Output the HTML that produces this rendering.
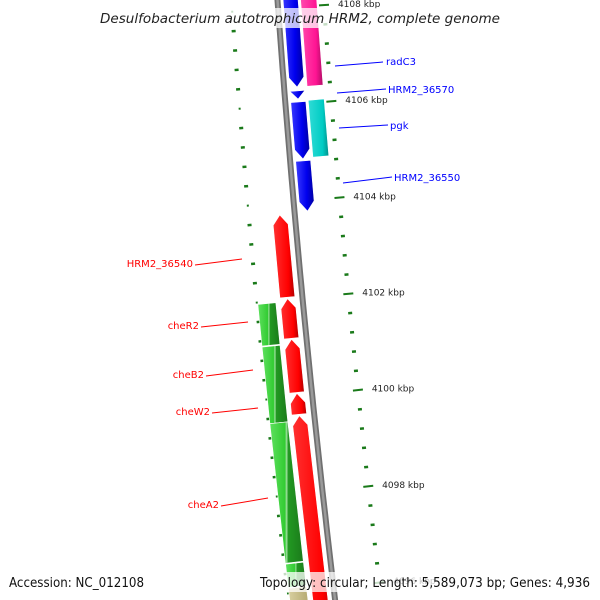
<!DOCTYPE html>
<html><head><meta charset="utf-8">
<style>
html,body{margin:0;padding:0;background:#fff;width:600px;height:600px;overflow:hidden;}
svg{display:block;overflow:hidden;font-family:"DejaVu Sans","Liberation Sans",sans-serif;}
</style></head>
<body>
<svg id="map" width="600" height="600" viewBox="0 0 600 600" xmlns="http://www.w3.org/2000/svg">
<defs>
<linearGradient id="gBlue" x1="0" x2="1" y1="0" y2="0"><stop offset="0" stop-color="#3a3aff"/><stop offset="0.6" stop-color="#0000ee"/><stop offset="1" stop-color="#0000a0"/></linearGradient>
<linearGradient id="gPink" x1="0" x2="1" y1="0" y2="0"><stop offset="0" stop-color="#ff4fb0"/><stop offset="0.7" stop-color="#ff1493"/><stop offset="1" stop-color="#b00d66"/></linearGradient>
<linearGradient id="gCyan" x1="0" x2="1" y1="0" y2="0"><stop offset="0" stop-color="#30dcd6"/><stop offset="0.7" stop-color="#00ccc4"/><stop offset="1" stop-color="#008f8a"/></linearGradient>
<linearGradient id="gRed" x1="0" x2="1" y1="0" y2="0"><stop offset="0" stop-color="#ff3030"/><stop offset="0.7" stop-color="#ff0000"/><stop offset="1" stop-color="#b00000"/></linearGradient>
<linearGradient id="gGreen" x1="0" x2="1" y1="0" y2="0"><stop offset="0" stop-color="#5ee05e"/><stop offset="0.45" stop-color="#33cc33"/><stop offset="0.5" stop-color="#a0e0a0"/><stop offset="0.55" stop-color="#229922"/><stop offset="1" stop-color="#1b7a1b"/></linearGradient>
<linearGradient id="gBeige" x1="0" x2="1" y1="0" y2="0"><stop offset="0" stop-color="#d8d0a0"/><stop offset="1" stop-color="#a89c60"/></linearGradient>
</defs>
<g id="ticks"></g>
<g id="backbone"></g>
<g id="genes"></g>
<g id="labels" font-size="10">
  <line x1="335" y1="66" x2="383" y2="62" stroke="#0000ff" stroke-width="1"/>
  <text x="386" y="65" fill="#0000ff">radC3</text>
  <line x1="337" y1="93" x2="386" y2="89" stroke="#0000ff"/>
  <text x="388" y="93" fill="#0000ff">HRM2_36570</text>
  <line x1="339" y1="128" x2="388" y2="125" stroke="#0000ff"/>
  <text x="390" y="129" fill="#0000ff">pgk</text>
  <line x1="343" y1="183" x2="392" y2="177" stroke="#0000ff"/>
  <text x="394" y="181" fill="#0000ff">HRM2_36550</text>
  <line x1="195" y1="265" x2="242" y2="259" stroke="#ff0000"/>
  <text x="193" y="267" fill="#ff0000" text-anchor="end">HRM2_36540</text>
  <line x1="201" y1="327" x2="248" y2="322" stroke="#ff0000"/>
  <text x="199" y="329" fill="#ff0000" text-anchor="end">cheR2</text>
  <line x1="206" y1="376" x2="253" y2="370" stroke="#ff0000"/>
  <text x="204" y="378" fill="#ff0000" text-anchor="end">cheB2</text>
  <line x1="212" y1="413" x2="258" y2="408" stroke="#ff0000"/>
  <text x="210" y="415" fill="#ff0000" text-anchor="end">cheW2</text>
  <line x1="221" y1="506" x2="268" y2="498" stroke="#ff0000"/>
  <text x="219" y="508" fill="#ff0000" text-anchor="end">cheA2</text>
</g>
<rect x="95" y="8" width="410" height="20" fill="#fff" fill-opacity="0.75"/>
<text x="100" y="23" font-size="13" font-style="italic" fill="#222" textLength="400" lengthAdjust="spacingAndGlyphs">Desulfobacterium autotrophicum HRM2, complete genome</text>
<rect x="256" y="572" width="340" height="20" fill="#fff" fill-opacity="0.75"/>
<text x="9" y="587" font-size="13" fill="#111" textLength="135" lengthAdjust="spacingAndGlyphs">Accession: NC_012108</text>
<text x="260" y="587" font-size="13" fill="#111" textLength="330" lengthAdjust="spacingAndGlyphs">Topology: circular; Length: 5,589,073 bp; Genes: 4,936</text>
</svg>
<script>
// gene data (kbp)
const geneNames = ["blue1","blue-small","blue2","blue3","radC3-pink","pgk-cyan","HRM2_36540","cheR2","cheB2","cheW2","cheA2","green1","green2","green3","green4","beige"];
const geneStart = [4108.5,4106.27,4106.04,4104.82,4108.5,4106.06,4103.75,4102.02,4101.18,4100.06,4099.6,4101.96,4101.08,4099.5,4096.6,4096.1];
const geneEnd   = [4106.35,4106.10,4104.86,4103.78,4106.35,4104.88,4102.05,4101.20,4100.08,4099.63,4094.5,4101.10,4099.50,4096.62,4096.12,4094.5];
const geneTrack = [13,13,13,13,31,31,-15,-15,-15,-15,-15,-36,-36,-36,-36,-36];
const geneArrow = ["down","down","down","down","none","none","up","up","up","up","up","none","none","none","none","none"];
const geneFill  = ["gBlue","gBlue","gBlue","gBlue","gPink","gCyan","gRed","gRed","gRed","gRed","gRed","gGreen","gGreen","gGreen","gGreen","gBeige"];
const tickLabels = [4096,4098,4100,4102,4104,4106,4108];

const NS="http://www.w3.org/2000/svg";
function yOfKb(kb){return 105+(4106-kb)*48.3;}
function xOfY(y){return 277.5+0.072*y+0.00004*y*y;}
function P(kb,off){
  const y=yOfKb(kb), x=xOfY(y), s=0.072+0.00008*y, n=Math.sqrt(1+s*s);
  return [x+off/n, y-off*s/n];
}
function pts(a){return a.map(p=>p[0].toFixed(1)+","+p[1].toFixed(1)).join(" ");}

const tg=document.getElementById("ticks");
for(let i=-28;i<=6;i++){
  const kb=4106+i*0.4; const major=(i%5===0);
  [[44,48],[-44,-48]].forEach(([o1,o2])=>{
    const a=P(kb,major?o1-3:o1), b=P(kb,major?o2+3:o2);
    const l=document.createElementNS(NS,"line");
    l.setAttribute("x1",a[0]);l.setAttribute("y1",a[1]);l.setAttribute("x2",b[0]);l.setAttribute("y2",b[1]);
    l.setAttribute("stroke","#1a7a1a");l.setAttribute("stroke-width",major?2:2.5);
    
    
    tg.appendChild(l);
  });
}
tickLabels.forEach(kb=>{
  const p=P(kb,60);
  const t=document.createElementNS(NS,"text");
  t.setAttribute("x",p[0]);t.setAttribute("y",p[1]+3);
  t.setAttribute("font-size","9");t.setAttribute("fill","#222");
  t.textContent=kb+" kbp";
  
  
  tg.appendChild(t);
});

const bg=document.getElementById("backbone");
const bpts=[];for(let kb=4109;kb>=4094;kb-=0.25)bpts.push(P(kb,0));
[["#707070",6],["#9a9a9a",2.5]].forEach(([c,w])=>{
  const pl=document.createElementNS(NS,"polyline");
  pl.setAttribute("points",pts(bpts));pl.setAttribute("fill","none");
  pl.setAttribute("stroke",c);pl.setAttribute("stroke-width",w);
  
  
  bg.appendChild(pl);
});

const gg=document.getElementById("genes");
geneNames.forEach((nm,i)=>{
  const a=geneStart[i], b=geneEnd[i], o=geneTrack[i], hw=(o===-36)?9:(o===31?8:7.5), tip=0.2;
  let poly;
  if(geneArrow[i]==="down"){
    const bt=Math.min(a,b+tip);
    poly=[P(a,o-hw),P(a,o+hw),P(bt,o+hw),P(b,o),P(bt,o-hw)];
  }else if(geneArrow[i]==="up"){
    const at=Math.max(b,a-tip);
    poly=[P(at,o-hw),P(a,o),P(at,o+hw),P(b,o+hw),P(b,o-hw)];
  }else{
    poly=[P(a,o-hw),P(a,o+hw),P(b,o+hw),P(b,o-hw)];
  }
  const pg=document.createElementNS(NS,"polygon");
  pg.setAttribute("points",pts(poly));
  pg.setAttribute("fill","url(#"+geneFill[i]+")");
  pg.setAttribute("stroke","#fff");pg.setAttribute("stroke-width","0.6");
  
  
  gg.appendChild(pg);
});
</script>
</body></html>
